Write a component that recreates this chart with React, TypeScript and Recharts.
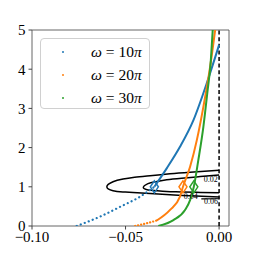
import { ComposedChart, Line, Scatter, XAxis, YAxis, ReferenceLine, ReferenceArea, ReferenceDot } from 'recharts';

const xTicks = [-0.1, -0.05, 0];
const xTickLabels = ['−0.10', '−0.05', '0.00'];
const yTicks = [0, 1, 2, 3, 4, 5];

const omegaMult = ['10', '20', '30'];
const colors = ['#1f77b4', '#ff7f0e', '#2ca02c'];

// sparse (dotted) part below the diamond, dense part above
const blueDotted = [[-0.0761, 0], [-0.0636, 0.24], [-0.0529, 0.49], [-0.0422, 0.75], [-0.0346, 1.0]];
const blueSolid = [[-0.0346, 1.0], [-0.028, 1.47], [-0.0209, 2.02], [-0.0137, 2.7], [-0.0066, 3.64], [0, 4.62]];
const orangeDotted = [[-0.0449, 0], [-0.0387, 0.07], [-0.0333, 0.14]];
const orangeSolid = [[-0.0333, 0.14], [-0.0262, 0.41], [-0.0209, 0.75], [-0.0193, 1.0], [-0.0155, 1.51], [-0.0119, 2.19], [-0.0084, 3.04], [-0.0048, 4.06], [-0.0021, 5.0]];
const greenSolid = [[-0.0325, 0], [-0.0244, 0.15], [-0.0182, 0.41], [-0.0155, 0.66], [-0.0135, 1.0], [-0.0111, 1.68], [-0.0084, 2.53], [-0.0063, 3.39], [-0.0044, 4.23], [-0.0034, 5.0]];
const diamonds = [[-0.0346, 1.0], [-0.0193, 1.0], [-0.0135, 1.0]];

// contour lines
const contourOuter = [[0, 1.42], [-0.0155, 1.37], [-0.0262, 1.33], [-0.0369, 1.28], [-0.046, 1.24], [-0.0513, 1.2], [-0.0567, 1.13], [-0.06, 1.0], [-0.0567, 0.9], [-0.0513, 0.87], [-0.046, 0.855], [-0.0369, 0.83], [-0.0262, 0.8], [-0.0155, 0.77], [0, 0.74]];
const contourInner = [[0, 1.3], [-0.01, 1.26], [-0.02, 1.22], [-0.028, 1.18], [-0.034, 1.13], [-0.038, 1.08], [-0.0405, 0.98], [-0.038, 0.92], [-0.034, 0.9], [-0.028, 0.88], [-0.02, 0.87], [-0.01, 0.855], [0, 0.845]];
const contourShort = [[-0.0095, 0.69], [0, 0.695]];
const contourLabels = [['0.02', -0.0045, 1.19], ['0.04', -0.0152, 0.75], ['0.06', -0.0043, 0.64]];

const pts = (a: number[][]) => a.map(([x, y]) => ({ x, y }));

const font = '"Liberation Serif", "DejaVu Serif", serif';

const Diamond = (color: string) => (props: any) => {
  const { cx, cy } = props;
  return (
    <polygon
      points={`${cx},${cy - 6} ${cx + 4},${cy} ${cx},${cy + 6} ${cx - 4},${cy}`}
      fill="none"
      stroke={color}
      strokeWidth={1.5}
    />
  );
};

export default function App() {
  return (
    <div style={{ position: 'absolute', left: 0, top: 0, width: 254, height: 254, background: '#fff' }}>
      <ComposedChart width={254} height={254} margin={{ top: 30, right: 25, bottom: 0, left: 0 }}>
        <XAxis
          dataKey="x"
          type="number"
          domain={[-0.1, 0.0053]}
          allowDataOverflow
          ticks={xTicks}
          tickFormatter={(v, i) => xTickLabels[i]}
          height={28}
          axisLine={false}
          tickLine={{ stroke: '#444' }}
          tickSize={3.5}
          tickMargin={2}
          tick={{ fontSize: 15, fill: '#000', fontFamily: font }}
        />
        <YAxis
          type="number"
          domain={[0, 5]}
          allowDataOverflow
          ticks={yTicks}
          width={32}
          axisLine={false}
          tickLine={{ stroke: '#444' }}
          tickSize={3.5}
          tickMargin={3}
          tick={{ fontSize: 15, fill: '#000', fontFamily: font }}
        />
        <ReferenceArea x1={-0.1} x2={0.0053} y1={0} y2={5} fill="none" stroke="#555" strokeWidth={0.9} ifOverflow="visible" />

        <Line data={pts(contourOuter)} dataKey="y" type="natural" stroke="#000" strokeWidth={1.5} dot={false} isAnimationActive={false} />
        <Line data={pts(contourInner)} dataKey="y" type="natural" stroke="#000" strokeWidth={1.5} dot={false} isAnimationActive={false} />
        <Line data={pts(contourShort)} dataKey="y" type="linear" stroke="#000" strokeWidth={1.2} dot={false} isAnimationActive={false} />
        {contourLabels.map(([t, x, y]) => (
          <ReferenceDot
            key={t as string}
            x={x as number}
            y={y as number}
            r={0}
            stroke="none"
            label={{ value: t, position: 'center', fontSize: 8, fill: '#000', fontFamily: font }}
          />
        ))}

        <ReferenceLine x={0} stroke="#000" strokeWidth={1.5} strokeDasharray="4 2.6" />

        <Line data={pts(blueDotted)} dataKey="y" type="monotone" stroke={colors[0]} strokeWidth={2.2} strokeLinecap="round" strokeDasharray="0.1 4.2" dot={false} isAnimationActive={false} />
        <Line data={pts(blueSolid)} dataKey="y" type="monotone" stroke={colors[0]} strokeWidth={2} dot={false} isAnimationActive={false} />
        <Line data={pts(orangeDotted)} dataKey="y" type="monotone" stroke={colors[1]} strokeWidth={2.2} strokeLinecap="round" strokeDasharray="0.1 3" dot={false} isAnimationActive={false} />
        <Line data={pts(orangeSolid)} dataKey="y" type="monotone" stroke={colors[1]} strokeWidth={2} dot={false} isAnimationActive={false} />
        <Line data={pts(greenSolid)} dataKey="y" type="monotone" stroke={colors[2]} strokeWidth={2} dot={false} isAnimationActive={false} />

        {diamonds.map((d, i) => (
          <Scatter key={i} data={pts([d])} dataKey="y" shape={Diamond(colors[i])} isAnimationActive={false} />
        ))}
      </ComposedChart>

      <div
        style={{
          position: 'absolute',
          left: 40,
          top: 38,
          width: 110,
          height: 71,
          boxSizing: 'border-box',
          border: '1px solid #d0d0d0',
          borderRadius: 4,
          background: 'rgba(255,255,255,0.8)',
          fontFamily: font,
          fontSize: 15.5,
        }}
      >
        {omegaMult.map((m, i) => (
          <div key={m} style={{ position: 'absolute', left: 0, top: 3 + i * 23, height: 20, width: '100%' }}>
            <span
              style={{
                position: 'absolute',
                left: 20.5,
                top: 8.5,
                width: 2.5,
                height: 2.5,
                borderRadius: '50%',
                background: colors[i],
              }}
            />
            <span style={{ position: 'absolute', left: 50, top: 0, lineHeight: '20px', whiteSpace: 'nowrap' }}>
              <i>ω</i> = {m}<i>π</i>
            </span>
          </div>
        ))}
      </div>
    </div>
  );
}
